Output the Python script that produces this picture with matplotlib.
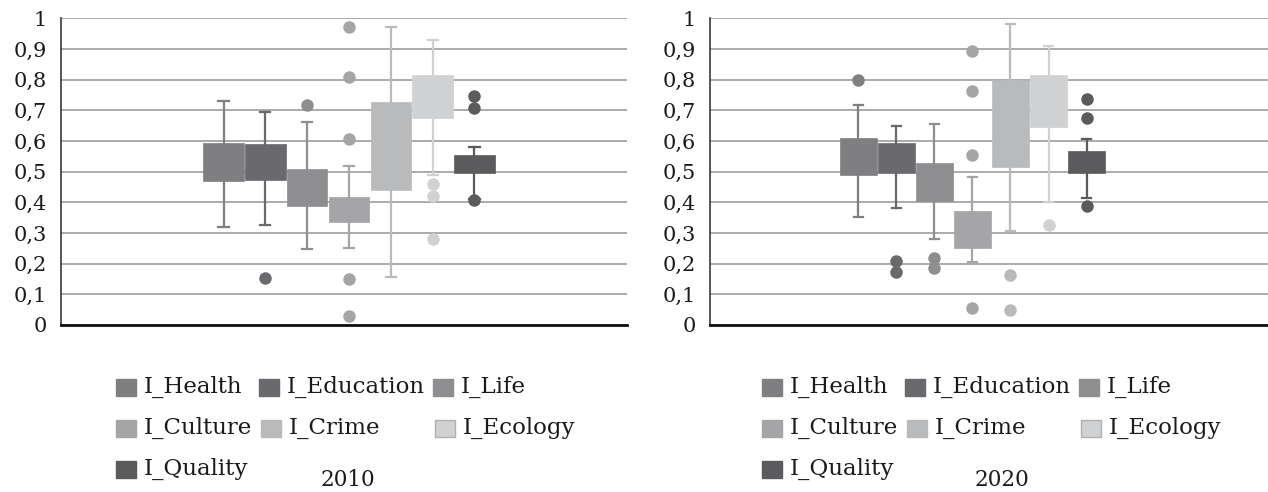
import matplotlib
matplotlib.use("Agg")
import matplotlib.pyplot as plt
from matplotlib.patches import Rectangle
import numpy as np

plt.rcParams['font.family'] = ['DejaVu Serif']

series = ["I_Health", "I_Education", "I_Life", "I_Culture", "I_Crime", "I_Ecology", "I_Quality"]
colors = ["#7f7f82", "#6a6a6e", "#8e8e91", "#a5a5a8", "#b9babc", "#d0d1d2", "#5b5b5e"]
years = ["2010", "2020"]
y_ticks = [0, 0.1, 0.2, 0.3, 0.4, 0.5, 0.6, 0.7, 0.8, 0.9, 1]
y_ticklabels = ["0", "0,1", "0,2", "0,3", "0,4", "0,5", "0,6", "0,7", "0,8", "0,9", "1"]

# 2010
q1_2010 = [0.470, 0.474, 0.387, 0.337, 0.441, 0.676, 0.494]
q3_2010 = [0.595, 0.591, 0.509, 0.416, 0.727, 0.814, 0.555]
wlo_2010 = [0.321, 0.326, 0.248, 0.252, 0.155, 0.490, 0.410]
whi_2010 = [0.730, 0.694, 0.662, 0.517, 0.971, 0.929, 0.579]
fl_2010 = [[], [0.152], [0.718], [0.971, 0.810, 0.607, 0.150, 0.028], [], [0.460, 0.422, 0.282], [0.747, 0.706, 0.406]]

# 2020
q1_2020 = [0.489, 0.494, 0.405, 0.252, 0.514, 0.644, 0.495]
q3_2020 = [0.611, 0.593, 0.529, 0.371, 0.799, 0.814, 0.568]
wlo_2020 = [0.353, 0.380, 0.279, 0.207, 0.308, 0.402, 0.413]
whi_2020 = [0.718, 0.650, 0.656, 0.484, 0.983, 0.911, 0.607]
fl_2020 = [[0.800], [0.208, 0.172], [0.218, 0.185], [0.894, 0.764, 0.555, 0.055], [0.162, 0.050], [0.326], [0.738, 0.674, 0.387]]

W, H = 1268, 492
fig = plt.figure(figsize=(W / 100, H / 100), dpi=100)

def fx(px):
    return px / W

def fy(py):
    return 1 - py / H

ax_specs = [
    dict(rect=[fx(61), fy(325), fx(627) - fx(61), fy(18.3) - fy(325)], xlim=(-2.885, 10.646), width=0.97),
    dict(rect=[fx(710), fy(325), fx(1268) - fx(710), fy(18.3) - fy(325)], xlim=(-2.90, 11.77), width=0.97),
]
data = [
    (q1_2010, q3_2010, wlo_2010, whi_2010, fl_2010),
    (q1_2020, q3_2020, wlo_2020, whi_2020, fl_2020),
]

positions = np.arange(1, len(series) + 1)
for spec, (q1, q3, wlo, whi, fl) in zip(ax_specs, data):
    ax = fig.add_axes(spec["rect"])
    for i, pos in enumerate(positions):
        st = dict(q1=q1[i], q3=q3[i], med=q1[i], whislo=wlo[i], whishi=whi[i], fliers=fl[i])
        c = colors[i]
        ax.bxp([st], positions=[pos], widths=spec["width"], patch_artist=True,
               showmeans=False, showfliers=True,
               boxprops=dict(facecolor=c, edgecolor=c, linewidth=0.5),
               whiskerprops=dict(color=c, linewidth=1.6),
               capprops=dict(color=c, linewidth=1.6),
               capwidths=0.24,
               medianprops=dict(linewidth=0),
               flierprops=dict(marker='o', markerfacecolor=c, markeredgewidth=0, markersize=9),
               zorder=3)
    ax.set_xlim(*spec["xlim"])
    ax.set_ylim(0, 1)
    ax.set_yticks(y_ticks)
    ax.set_yticklabels(y_ticklabels, fontsize=15, color="#1a1a1a")
    ax.set_xticks([])
    ax.tick_params(axis='y', length=0, pad=10)
    ax.yaxis.grid(True, color="#959595", linewidth=1.1)
    ax.set_axisbelow(True)
    for s in ["top", "right"]:
        ax.spines[s].set_visible(False)
    ax.spines["left"].set_color("#3a3a3a")
    ax.spines["left"].set_linewidth(1.2)
    ax.spines["bottom"].set_color("#111111")
    ax.spines["bottom"].set_linewidth(2)

# legends (layout in pixels)
leg_layout = [(116, 387), (259, 387), (433, 387), (116, 428), (261, 428), (435, 428), (116, 469)]
offsets = [0, 646]
year_x = [348, 1002]
for off, yr, yx in zip(offsets, years, year_x):
    for (lx, ly), name, c in zip(leg_layout, series, colors):
        ec = "#b0b0b2" if name == "I_Ecology" else c
        fig.patches.append(Rectangle((fx(lx + off), fy(ly + 8.5)), 20 / W, 17 / H,
                                     transform=fig.transFigure, facecolor=c, edgecolor=ec, linewidth=1))
        fig.text(fx(lx + off + 28), fy(ly), name, fontsize=16.5, va='center', ha='left', color="#1a1a1a")
    fig.text(fx(yx), fy(480), yr, fontsize=15.5, va='center', ha='center', color="#1a1a1a")

fig.savefig("out.png", dpi=100)
